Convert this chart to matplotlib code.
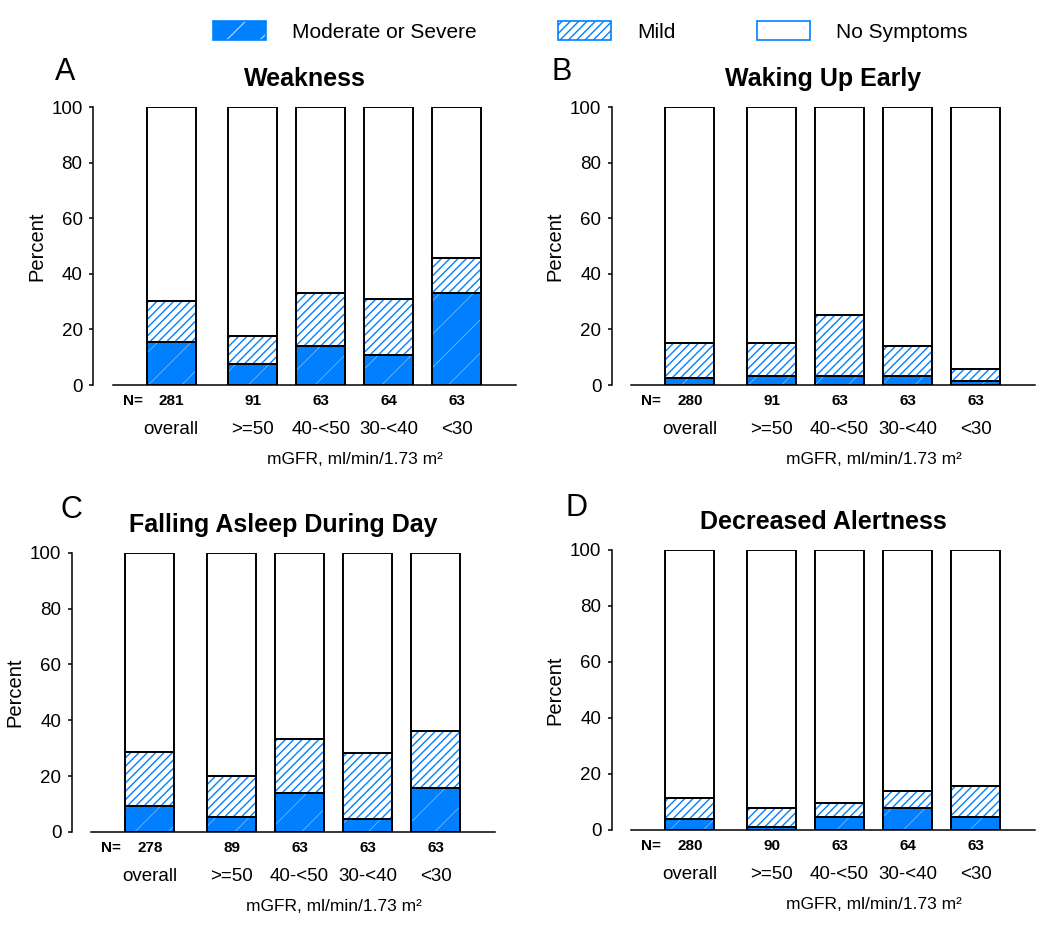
import matplotlib
matplotlib.use("Agg")
import matplotlib.pyplot as plt
from matplotlib.patches import Patch
from matplotlib.legend_handler import HandlerTuple

plt.rcParams['font.family'] = ['Liberation Sans', 'DejaVu Sans']
plt.rcParams['hatch.linewidth'] = 1.0

# data (percent of patients)
groups = ["overall", ">=50", "40-<50", "30-<40", "<30"]
titles = ["Weakness", "Waking Up Early", "Falling Asleep During Day", "Decreased Alertness"]
letters = ["A", "B", "C", "D"]

weak_n = [281, 91, 63, 64, 63]
weak_mod = [15.6, 7.5, 14.0, 10.8, 33.2]
weak_mild = [14.7, 10.1, 19.2, 20.0, 12.4]

wake_n = [280, 91, 63, 63, 63]
wake_mod = [2.4, 3.2, 3.2, 3.2, 1.4]
wake_mild = [12.8, 12.0, 22.0, 10.8, 4.4]

asleep_n = [278, 89, 63, 63, 63]
asleep_mod = [9.3, 5.2, 14.1, 4.5, 15.6]
asleep_mild = [19.2, 14.8, 19.1, 23.9, 20.7]

alert_n = [280, 90, 63, 64, 63]
alert_mod = [4.0, 0.8, 4.6, 7.6, 4.6]
alert_mild = [7.4, 6.8, 4.8, 6.3, 11.0]

panels = [(weak_n, weak_mod, weak_mild),
          (wake_n, wake_mod, wake_mild),
          (asleep_n, asleep_mod, asleep_mild),
          (alert_n, alert_mod, alert_mild)]

BLUE = "#0080ff"
xpos = [0, 1.2, 2.2, 3.2, 4.2]
W = 0.72
W_PX, H_PX = 1050, 932
AX_W = 423

# axes boxes in pixels: left, top, bottom
boxes = [(93, 107, 385), (611.7, 107, 385), (71.7, 552.7, 832), (611.7, 550, 829.7)]
letter_pos = [(55, 80), (552, 80), (60, 518), (566, 516)]


def hatch_lw(bars, lw):
    for p in bars:
        if hasattr(p, "set_hatch_linewidth"):
            p.set_hatch_linewidth(lw)


fig = plt.figure(figsize=(W_PX / 100, H_PX / 100), dpi=100)

for i, (n, mod, mild) in enumerate(panels):
    left, top, bot = boxes[i]
    ax = fig.add_axes([left / W_PX, 1 - bot / H_PX, AX_W / W_PX, (bot - top) / H_PX])
    none = [100 - a - b for a, b in zip(mod, mild)]
    top_mild = [a + b for a, b in zip(mod, mild)]

    b1 = ax.bar(xpos, mod, W, color=BLUE, edgecolor=(1, 1, 1, 0.45), hatch="/", linewidth=0)
    hatch_lw(b1, 0.6)
    b2 = ax.bar(xpos, mild, W, bottom=mod, color="white", edgecolor=BLUE, hatch="////", linewidth=0)
    hatch_lw(b2, 1.0)
    for h, b in [(mod, 0), (mild, mod), (none, top_mild)]:
        ax.bar(xpos, h, W, bottom=b, fill=False, edgecolor="black", linewidth=1.4, zorder=3)

    ax.set_xlim(-1.15, 5.07)
    ax.set_ylim(0, 100)
    ax.set_yticks(range(0, 101, 20))
    ax.tick_params(axis="y", labelsize=13.5, length=3, width=1.1, pad=4.5)
    ax.set_xticks([])
    for s in ["top", "right"]:
        ax.spines[s].set_visible(False)
    ax.spines["left"].set_linewidth(1.1)
    ax.spines["bottom"].set_linewidth(1.1)
    ax.spines["bottom"].set_bounds(-0.86, 5.07)

    ax.set_ylabel("Percent", fontsize=14.5)
    ax.yaxis.set_label_coords(-47 / AX_W, 0.5)
    ax.set_title(titles[i], fontsize=18, fontweight="bold", pad=15)

    h = bot - top
    tr = ax.get_xaxis_transform()
    ax.text(-0.57, -20 / h, "N=", transform=tr, ha="center", va="baseline", fontsize=11, fontweight="bold")
    for x, nn, g in zip(xpos, n, groups):
        ax.text(x, -20 / h, str(nn), transform=tr, ha="center", va="baseline", fontsize=11, fontweight="bold")
        ax.text(x, -49 / h, g, transform=tr, ha="center", va="baseline", fontsize=13.5)
    ax.text((xpos[1] + xpos[-1]) / 2, -79 / h, "mGFR, ml/min/1.73 m²", transform=tr,
            ha="center", va="baseline", fontsize=12.5)

    lx, ly = letter_pos[i]
    fig.text(lx / W_PX, 1 - ly / H_PX, letters[i], fontsize=22, ha="left", va="baseline")

handles = [
    (Patch(facecolor=BLUE, edgecolor=(1, 1, 1, 0.6), hatch="/", linewidth=0),
     Patch(facecolor="none", edgecolor=BLUE, linewidth=1.2)),
    (Patch(facecolor="white", edgecolor=BLUE, hatch="////", linewidth=0),
     Patch(facecolor="none", edgecolor=BLUE, linewidth=1.2)),
    (Patch(facecolor="white", edgecolor=BLUE, linewidth=0),
     Patch(facecolor="none", edgecolor=BLUE, linewidth=1.2)),
]
fig.legend(handles, ["Moderate or Severe", "Mild", "No Symptoms"],
           handler_map={tuple: HandlerTuple(ndivide=1, pad=0)},
           loc="center left", bbox_to_anchor=(213 / W_PX, 1 - 31.5 / H_PX),
           ncol=3, frameon=False, fontsize=15, borderpad=0, borderaxespad=0,
           handlelength=2.55, handleheight=1.0, handletextpad=1.25, columnspacing=3.9)

fig.savefig("out.png", dpi=100)
